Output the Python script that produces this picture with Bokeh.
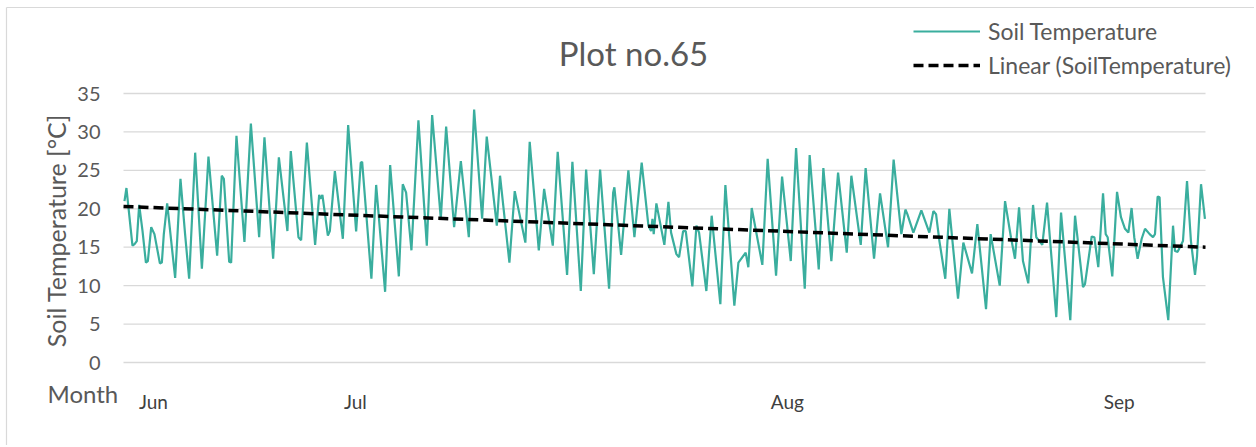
import math
from bokeh.plotting import figure
from bokeh.models import Range1d, Label, Legend, LegendItem
from bokeh.core.properties import value
from bokeh.embed import file_html
from bokeh.resources import INLINE

# ---- data (time in days since first reading, soil temperature in °C) ----
days = [
    0.07, 0.21, 0.64, 0.79, 0.95, 1.12, 1.36, 1.60, 1.74, 1.98, 2.21, 2.60, 2.74, 2.88, 3.12, 3.69, 4.07, 4.40, 4.69,
    5.12, 5.60, 6.07, 6.69, 7.02, 7.17, 7.55, 7.69, 8.07, 8.64, 9.10, 9.69, 10.07, 10.69, 11.10, 11.71, 11.95, 12.50,
    12.69, 13.10, 13.69, 13.98, 14.07, 14.21, 14.60, 14.74, 15.10,
    15.67, 16.05, 16.62, 16.95, 17.05, 17.71, 18.05, 18.69, 19.05, 19.67, 19.95, 20.19, 20.57, 21.07, 21.67, 22.05,
    22.67, 23.05, 23.62, 24.10, 24.67, 25.05, 25.62, 25.95, 26.67, 26.90, 27.57, 27.95, 28.71, 29.02, 29.67, 30.05,
    30.67, 31.02,
    31.69, 32.07, 32.67, 33.05, 33.60, 34.05, 34.69, 34.98, 35.07, 35.55, 36.07, 36.50, 37.02, 37.50, 37.69, 37.79,
    37.88, 38.07, 38.64, 38.93, 39.12, 39.50, 39.69, 39.98, 40.17, 40.64, 40.93, 41.12, 41.64, 42.02, 42.64, 43.00,
    43.64, 43.93, 44.45, 44.64, 44.88, 45.64, 46.02,
    46.62, 47.05, 47.67, 48.05, 48.67, 49.02, 49.67, 50.00, 50.57, 51.05, 51.67, 52.00, 52.67, 53.02, 53.62, 54.05,
    54.62, 55.02, 55.57, 55.86, 56.00, 56.43, 57.00, 57.57, 57.86, 58.05, 58.29, 58.71, 59.00, 59.62, 60.00, 60.62,
    61.00, 61.62, 61.95,
    62.60, 62.98, 63.40, 63.69, 63.98, 64.26, 64.64, 64.98, 65.21, 65.64, 65.98, 66.64, 66.98, 67.64, 67.98, 68.55,
    68.69, 69.17, 69.36, 69.64, 69.98, 70.17, 70.31, 70.64, 70.98, 71.26, 71.55, 71.79, 72.02, 72.21, 72.45, 72.74,
    72.98, 73.31, 73.55, 73.69, 73.88, 74.02, 74.26, 74.64, 74.98, 75.12, 75.31, 75.50, 75.69, 75.98, 76.26, 76.55,
    76.69, 76.98, 77.26,
]
soil_temperature = [
    21.0, 22.7, 15.2, 15.4, 15.8, 20.5, 17.1, 13.0, 13.2, 17.6, 16.7, 12.9, 13.0, 16.7, 20.7, 11.0, 23.9, 16.7, 10.9,
    27.3, 12.2, 26.8, 13.9, 24.3, 23.9, 13.1, 13.0, 29.5, 15.7, 31.1, 16.3, 29.3, 13.5, 26.7, 17.1, 27.5, 16.3,
    15.9, 28.6, 15.3, 21.8, 21.3, 21.8, 16.5, 17.1, 24.9,
    16.1, 30.9, 17.05, 26.0, 26.1, 10.9, 23.1, 9.2, 25.7, 11.2, 23.2, 22.1, 14.6, 31.5, 15.2, 32.2,
    18.7, 30.7, 17.6, 26.2, 16.3, 32.9, 18.7, 29.4, 17.8, 24.3, 13.0, 22.3, 15.6, 28.7, 14.6, 22.6,
    15.2, 27.4,
    11.4, 26.1, 9.3, 25.1, 11.5, 25.1, 9.6, 22.1, 22.8, 14.0, 25.0, 16.3, 26.0, 17.8, 17.1, 18.7,
    16.7, 20.7, 15.3, 20.9, 16.9, 14.1, 13.7, 17.1, 17.1, 9.9, 17.8, 16.9, 9.3, 19.1, 7.6, 23.1,
    7.4, 13.0, 14.3, 12.4, 20.1, 12.7, 26.5,
    11.3, 24.2, 13.2, 27.9, 9.6, 27.0, 12.1, 25.3, 13.2, 24.7, 14.3, 24.3, 15.3, 25.3, 13.5, 22.0,
    15.0, 26.4, 16.7, 19.9, 19.3, 16.9, 19.8, 16.9, 19.7, 19.3, 15.8, 10.9, 20.0, 8.3, 15.6, 11.6,
    18.0, 6.95, 16.7,
    10.0, 21.0, 16.3, 13.5, 20.2, 13.2, 10.3, 20.5, 16.3, 15.3, 20.8, 5.9, 19.5, 5.5, 19.1, 9.8,
    10.2, 16.4, 16.3, 12.4, 22.0, 16.7, 16.3, 11.2, 22.2, 18.9, 17.4, 16.9, 20.1, 16.3, 13.5, 16.1,
    17.4, 16.7, 16.3, 16.7, 21.6, 21.5, 11.1, 5.5, 17.8, 14.5, 14.4, 15.1, 15.8, 23.6, 15.8, 11.4,
    13.7, 23.2, 18.7,
]
# linear trend line (value at first and last day)
trend_days = [0.0, 77.3]
trend_values = [20.3, 15.0]

month_labels = ["Jun", "Jul", "Aug", "Sep"]
month_tick_days = [2.14, 16.57, 47.43, 71.14]
y_ticks = [0, 5, 10, 15, 20, 25, 30, 35]
y_tick_labels = [str(v) for v in y_ticks]

# ---- layout (pixels of the page) ----
W, H = 1254, 445
PL, PR, PT, PB = 123, 1205, 93, 362          # plot area edges
X0, X1, Y0, Y1 = 0.0, 77.3, 0.0, 35.0        # axis extents
sx = (PR - PL) / (X1 - X0)
sy = (PB - PT) / (Y1 - Y0)


def px(xp):  # page pixel x -> data x
    return X0 + (xp - PL) / sx


def py(yp):  # page pixel y -> data y
    return Y0 + (PB - yp) / sy


FONT = "Lato"
GRAY = "#595959"

p = figure(width=W, height=H, output_backend="svg", toolbar_location=None,
           x_axis_type=None, y_axis_type=None,
           x_range=Range1d(px(0), px(W)), y_range=Range1d(py(H), py(0)),
           min_border=0, outline_line_color=None)
p.xgrid.visible = False
p.ygrid.visible = False

# chart-area border (left and top edges)
p.segment(x0=[px(6), px(6)], y0=[py(7), py(7)], x1=[px(6), px(W)], y1=[py(H), py(7)],
          line_color="#d9d9d9", line_width=1.2)

# horizontal gridlines at the y ticks
p.segment(x0=[X0] * len(y_ticks), x1=[X1] * len(y_ticks), y0=y_ticks, y1=y_ticks,
          line_color="#d9d9d9", line_width=1.3)

# y tick labels
p.text(x=[px(100)] * len(y_ticks), y=y_ticks, text=y_tick_labels,
       text_align="right", text_baseline="middle", text_font=value(FONT),
       text_font_size="20px", text_color=GRAY)

# month labels on the x axis
p.text(x=month_tick_days, y=[py(401)] * len(month_tick_days), text=month_labels,
       text_align="center", text_baseline="middle", text_font=value(FONT),
       text_font_size="19px", text_color="#404040")

r_soil = p.line(days, soil_temperature, line_color="#3AAE9E", line_width=2.2)
r_trend = p.line(trend_days, trend_values, line_color="black", line_width=3.5, line_dash="10 5")

legend = Legend(items=[LegendItem(label="Soil Temperature", renderers=[r_soil]),
                       LegendItem(label="Linear (SoilTemperature)", renderers=[r_trend])],
                location=(913, H - 79), orientation="vertical",
                glyph_width=67, glyph_height=20, label_height=20, label_standoff=8, spacing=6,
                padding=0, margin=0, border_line_color=None, background_fill_alpha=0,
                label_text_font=FONT, label_text_font_size="23px", label_text_color=GRAY)
p.add_layout(legend, "center")

p.add_layout(Label(x=px(633), y=py(52), text="Plot no.65", text_align="center", text_baseline="middle",
                   text_font=FONT, text_font_size="33px", text_color=GRAY))
p.add_layout(Label(x=px(55), y=py(230), text="Soil Temperature [°C]", angle=math.pi / 2,
                   text_align="center", text_baseline="middle",
                   text_font=FONT, text_font_size="25px", text_color=GRAY))
p.add_layout(Label(x=px(47), y=py(393), text="Month", text_align="left", text_baseline="middle",
                   text_font=FONT, text_font_size="24px", text_color=GRAY))

open("out.html", "w").write(file_html(p, INLINE))
